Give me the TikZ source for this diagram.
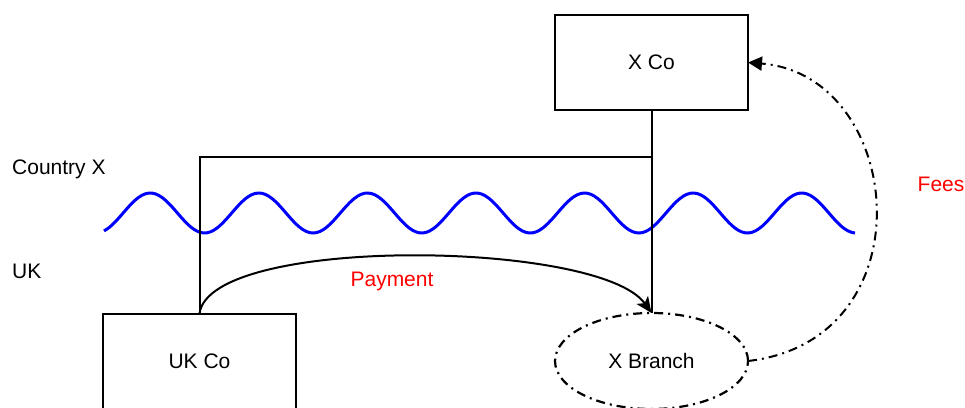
\documentclass[tikz,border=0pt]{standalone}
\usepackage{fontspec}
\setmainfont{Liberation Sans}
\usetikzlibrary{arrows.meta,shapes.geometric}
\definecolor{lblred}{RGB}{255,0,0}
\definecolor{wavblue}{RGB}{0,0,255}
\tikzset{
  box/.style={draw=black, line width=2pt, minimum width=193pt, minimum height=95pt, inner sep=0pt, outer sep=0pt, font=\fontsize{21}{25}\selectfont},
  ell/.style={ellipse, draw=black, line width=2.2pt, minimum width=193pt, minimum height=96pt, inner sep=0pt, outer sep=0pt, dash pattern=on 9pt off 5pt on 2pt off 5pt, font=\fontsize{21}{25}\selectfont},
  conn/.style={draw=black, line width=2pt},
  tip/.style={-{Stealth[length=16pt,width=14pt,inset=4pt]}},
  ftip/.style={-{Triangle[length=14pt,width=14pt]}},
  dd/.style={draw=black, line width=2pt, dash pattern=on 9pt off 5pt on 2pt off 5pt},
  lbl/.style={font=\fontsize{21}{25}\selectfont, inner sep=0pt},
  red/.style={lbl, text=lblred},
  wave/.style={draw=wavblue, line width=3pt}
}
\begin{document}
\begin{tikzpicture}[x=1pt,y=-1pt]
\useasboundingbox (0,0) rectangle (965,407);
\fill[white] (0,0) rectangle (965,407);
% wave
\draw[wave] plot[smooth, domain=104:855, samples=220] (\x, {213+20*cos(3.3158*(\x-96))});
% nodes
\node[box] (xco) at (651.5,62.5) {X Co};
\node[box] (ukco) at (199.5,361) {UK Co};
\node[ell] (xbr) at (651.5,361) {X Branch};
\node[lbl, anchor=west] (cx) at (12,169) {Country X};
\node[lbl, anchor=west] (uk) at (12,271) {UK};
\node[red] (pay) at (392,281) {Payment};
\node[red] (fees) at (941,184) {Fees};
% connectors
\coordinate (jn) at (651.5,157);
\draw[conn] (xco.south) -- (xbr.north);
\draw[conn] (ukco.north) |- (jn);
\draw[conn, tip] (ukco.north) .. controls (210,235) and (600,240) .. (xbr.north);
\draw[dd, ftip] (xbr.east) .. controls (930,340) and (905,75) .. (xco.east);
\end{tikzpicture}
\end{document}
